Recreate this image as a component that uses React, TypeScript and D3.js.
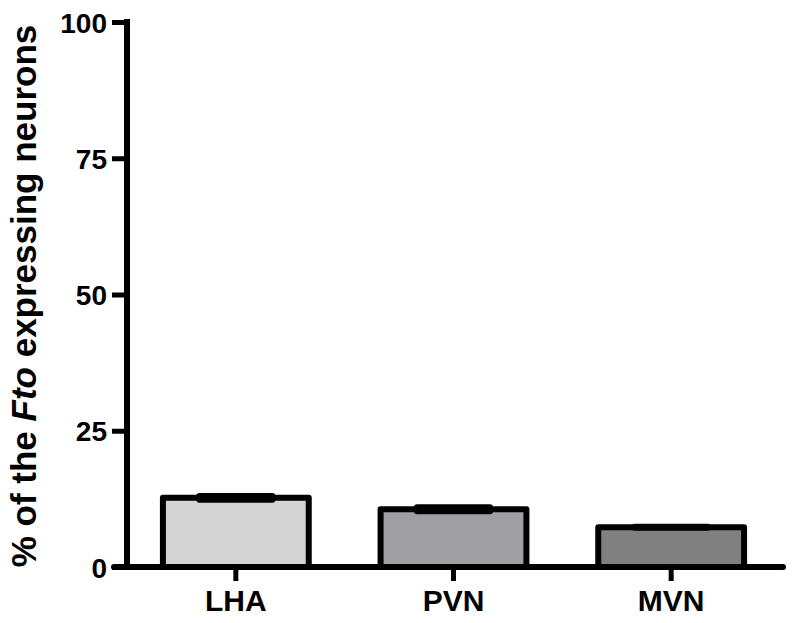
import React, { useEffect, useRef } from "react"
import * as d3 from "d3"

const regions = ["LHA", "PVN", "MVN"]
const means = [12.7, 10.6, 7.3]
const errors = [0.35, 0.35, 0.1]
const fills = ["#d4d4d4", "#a0a0a4", "#808080"]
const yTicks = [0, 25, 50, 75, 100]

function App() {
  const ref = useRef(null)
  const width = 793
  const height = 623

  useEffect(() => {
    const svg = d3.select(ref.current)
    svg.selectAll("*").remove()

    const x = d3
      .scaleBand()
      .domain(regions)
      .range([127, 780])
      .paddingInner(0.33)
      .paddingOuter(0.165)

    const y = d3.scaleLinear().domain([0, 100]).range([567, 22])

    const font = "'Liberation Sans', Arial, sans-serif"

    // bars
    svg
      .selectAll("rect.bar")
      .data(regions)
      .enter()
      .append("rect")
      .attr("class", "bar")
      .attr("x", d => x(d))
      .attr("y", (d, i) => y(means[i]))
      .attr("width", x.bandwidth())
      .attr("height", (d, i) => y(0) - y(means[i]))
      .style("fill", (d, i) => fills[i])
      .style("stroke", "black")
      .style("stroke-width", 6)
      .style("stroke-linejoin", "round")

    // error caps
    const capW = x.bandwidth() * 0.5
    regions.forEach((r, i) => {
      const cx = x(r) + x.bandwidth() / 2
      ;[means[i] + errors[i], means[i] - errors[i]].forEach(v => {
        svg
          .append("line")
          .attr("x1", cx - capW / 2)
          .attr("x2", cx + capW / 2)
          .attr("y1", y(v))
          .attr("y2", y(v))
          .style("stroke", "black")
          .style("stroke-width", 6)
          .style("stroke-linecap", "round")
      })
    })

    // y axis
    const yAxis = svg
      .append("g")
      .attr("transform", "translate(127,0)")
      .call(d3.axisLeft(y).tickValues(yTicks).tickSize(15).tickPadding(5))
    yAxis.select(".domain").remove()
    yAxis
      .append("line")
      .attr("x1", 0)
      .attr("x2", 0)
      .attr("y1", y(100) - 3)
      .attr("y2", y(0) + 3)
      .style("stroke", "black")
      .style("stroke-width", 6)
    yAxis.selectAll(".tick line").style("stroke-width", 5)
    yAxis
      .selectAll(".tick text")
      .style("font-family", font)
      .style("font-weight", "bold")
      .style("font-size", "28px")
      .attr("dy", "0.36em")

    // x axis
    const xAxis = svg
      .append("g")
      .attr("transform", `translate(0,${y(0)})`)
      .call(d3.axisBottom(x).tickSize(14).tickPadding(9))
    xAxis.select(".domain").remove()
    xAxis
      .append("line")
      .attr("x1", 114)
      .attr("x2", 783)
      .attr("y1", 0)
      .attr("y2", 0)
      .style("stroke", "black")
      .style("stroke-width", 6)
      .style("stroke-linecap", "round")
    xAxis.selectAll(".tick line").style("stroke-width", 5)
    xAxis
      .selectAll(".tick text")
      .style("font-family", font)
      .style("font-weight", "bold")
      .style("font-size", "30px")

    // y title
    const title = svg
      .append("text")
      .attr("transform", "translate(36,296) rotate(-90)")
      .attr("text-anchor", "middle")
      .style("font-family", font)
      .style("font-weight", "bold")
      .style("font-size", "35px")
    title.append("tspan").text("% of the ")
    title.append("tspan").style("font-style", "italic").text("Fto")
    title.append("tspan").text(" expressing neurons")
  }, [])

  return (
    <div style={{ position: "absolute", left: 0, top: 0 }}>
      <svg ref={ref} width={width} height={height} style={{ background: "white", display: "block" }} />
    </div>
  )
}

export default App
